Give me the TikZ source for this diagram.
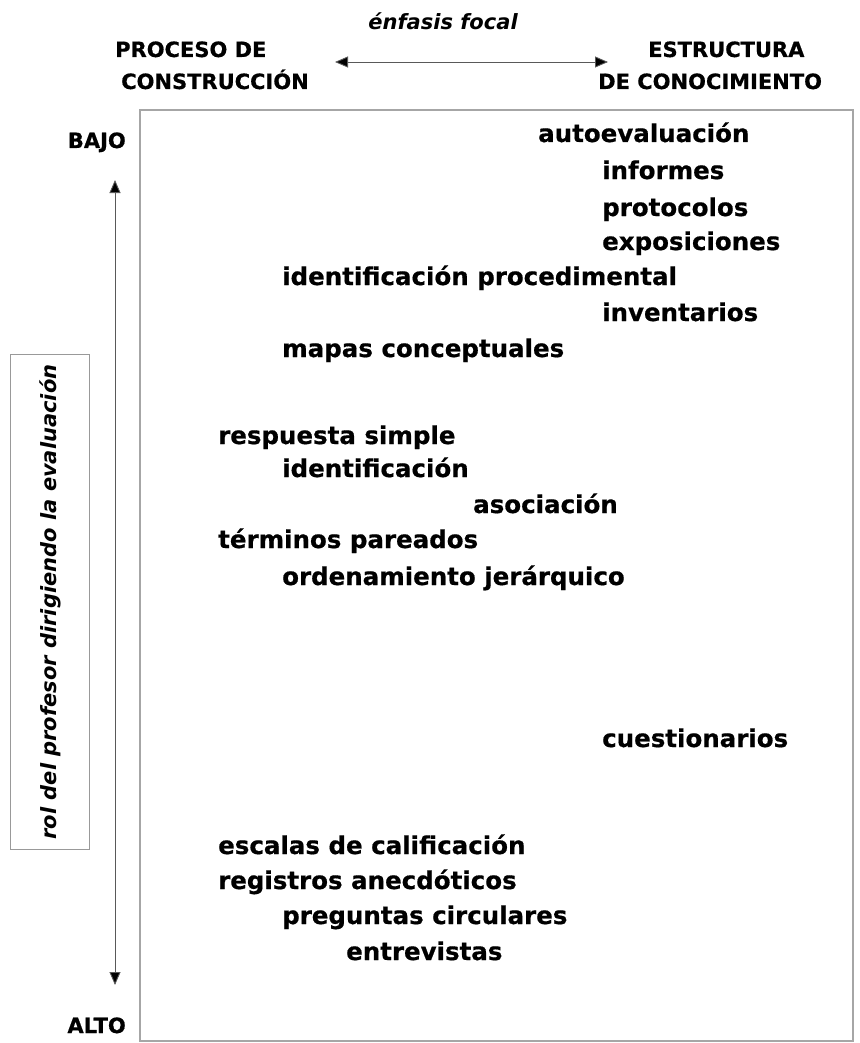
\documentclass[tikz,border=0pt]{standalone}
\usepackage{fontspec}
\setmainfont{DejaVu Sans}[BoldFeatures={FakeBold=0.6}]
\usetikzlibrary{arrows.meta}
\newcommand{\tecfont}{\fontsize{24.5}{28}\selectfont\bfseries}
\newcommand{\cabfont}{\fontsize{21}{25}\selectfont\bfseries}
\newcommand{\rolfont}{\fontsize{21}{24}\selectfont\bfseries\itshape}
\tikzset{
  tecnica/.style={anchor=base west, inner sep=0pt, font=\tecfont},
  cabeza/.style={anchor=base west, inner sep=0pt, font=\cabfont},
  marco/.style={draw=black!35, line width=1.8pt},
  flecha/.style={draw=black!65, line width=0.9pt,
    {Triangle[length=13pt,width=11pt,fill=black]}-{Triangle[length=13pt,width=11pt,fill=black]}}
}
\begin{document}
\begin{tikzpicture}[x=1pt, y=-1pt]
        \useasboundingbox (0,0) rectangle (859,1043);

        % encabezado
        \node[inner sep=0pt, font=\rolfont] (enfasis) at (443,21) {énfasis focal};
        \node[cabeza] (proc1) at (115,57) {PROCESO DE};
        \node[cabeza] (proc2) at (121,89) {CONSTRUCCIÓN};
        \node[cabeza] (estr1) at (648,57) {ESTRUCTURA};
        \node[cabeza] (estr2) at (598,89) {DE CONOCIMIENTO};
        \coordinate (izq) at (335,62);
        \coordinate (der) at (608,62);
        \draw[flecha] (izq) -- (der);

        % eje vertical
        \node[cabeza, anchor=base east] (bajo) at (126,148) {BAJO};
        \node[cabeza, anchor=base east] (alto) at (126,1033) {ALTO};
        \coordinate (arriba) at (115,180);
        \coordinate (abajo) at (115,985);
        \draw[flecha] (arriba) -- (abajo);
        \node[draw=black!40, line width=0.9pt, rotate=90, minimum width=495, minimum height=79,
              inner sep=0pt, font=\rolfont] (rol) at (50,602) {rol del profesor dirigiendo la evaluación};

        % marco
        \draw[marco] (140,110) rectangle (853,1041);

        % tecnicas
        \node[tecnica] (auto) at (538,142) {autoevaluación};
        \node[tecnica] (info) at (602,179) {informes};
        \node[tecnica] (prot) at (602,216) {protocolos};
        \node[tecnica] (expo) at (602,250) {exposiciones};
        \node[tecnica] (idproc) at (282,285) {identificación procedimental};
        \node[tecnica] (inve) at (602,321) {inventarios};
        \node[tecnica] (mapa) at (282,357) {mapas conceptuales};
        \node[tecnica] (resp) at (218,444) {respuesta simple};
        \node[tecnica] (iden) at (282,477) {identificación};
        \node[tecnica] (asoc) at (473,513) {asociación};
        \node[tecnica] (term) at (218,548) {términos pareados};
        \node[tecnica] (orde) at (282,585) {ordenamiento jerárquico};
        \node[tecnica] (cues) at (602,747) {cuestionarios};
        \node[tecnica] (esca) at (218,854) {escalas de calificación};
        \node[tecnica] (regi) at (218,889) {registros anecdóticos};
        \node[tecnica] (preg) at (282,924) {preguntas circulares};
        \node[tecnica] (entr) at (346,960) {entrevistas};
\end{tikzpicture}
\end{document}
